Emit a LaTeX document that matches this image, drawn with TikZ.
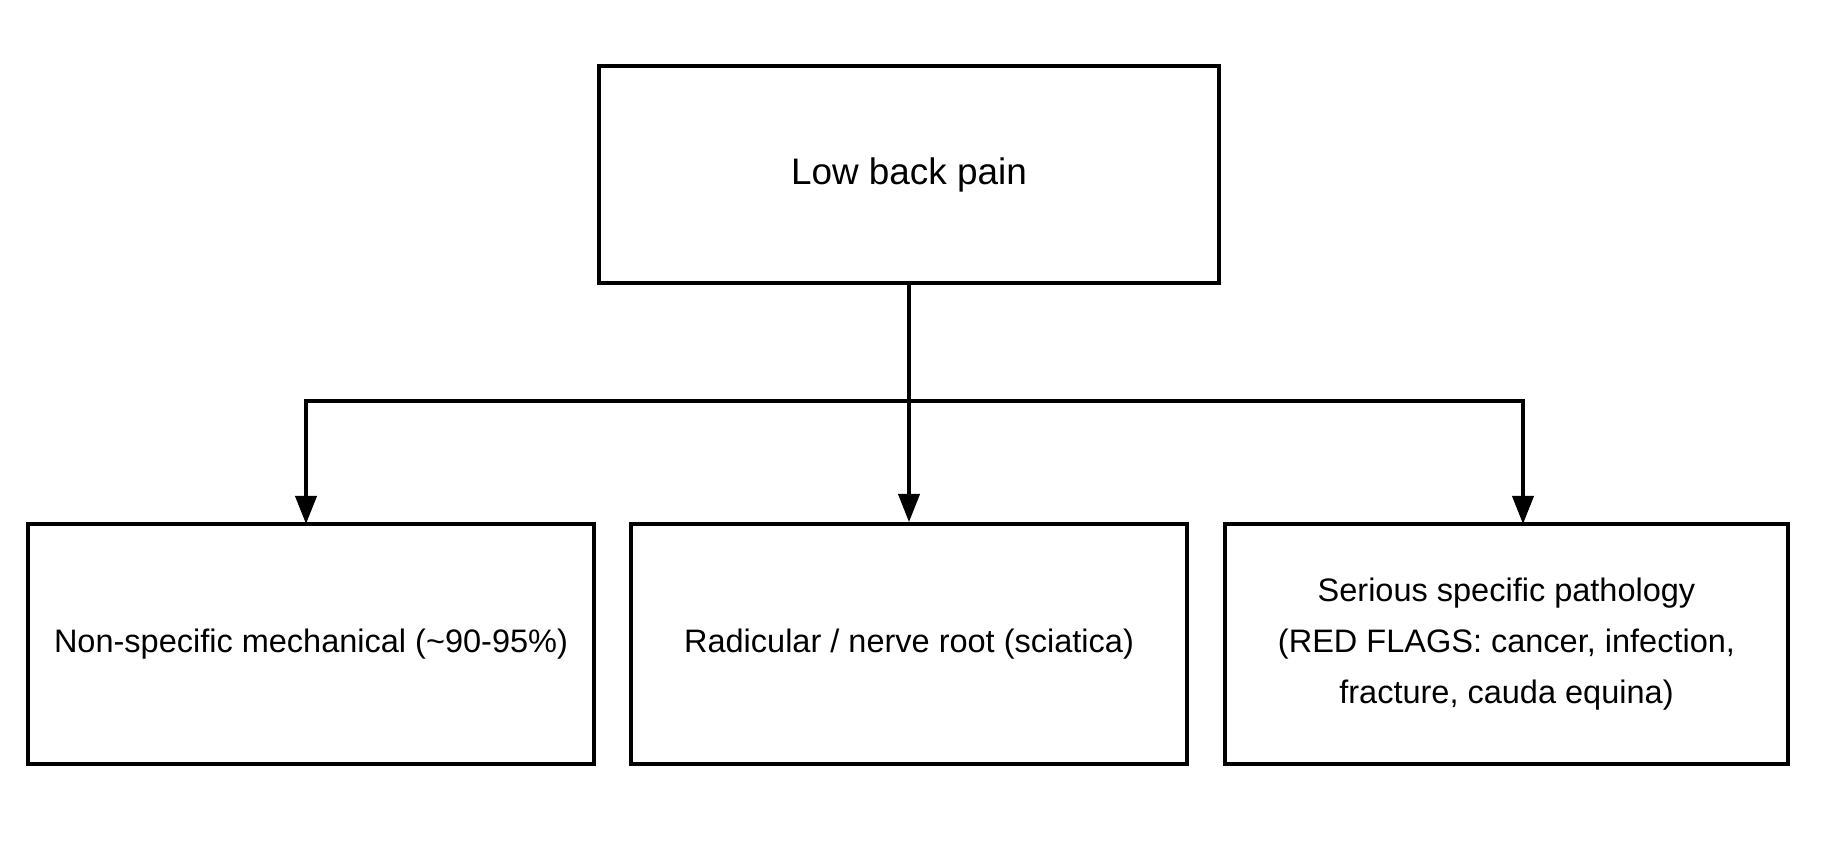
\documentclass[tikz,border=0pt]{standalone}
\usepackage{fontspec}
\setmainfont{Liberation Sans}
\usetikzlibrary{arrows.meta}
\begin{document}
\begin{tikzpicture}[x=0.02cm, y=-0.02cm,
		box/.style={
			draw=black,
			line width=2.2pt,
			rectangle,
			align=center,
			inner sep=0pt,
			font=\fontsize{18.5}{29}\selectfont},
		arrow/.style={line width=2.2pt, -{Triangle[length=16pt, width=12pt]}}]
		\useasboundingbox (0,0) rectangle (1823,863);
		\node (pain) [box, font=\fontsize{21}{29}\selectfont, minimum width=620*0.02cm, minimum height=217*0.02cm] at (909,174.5) {Low back pain};
		\node (mech) [box, minimum width=566*0.02cm, minimum height=240*0.02cm] at (311,644) {Non-specific mechanical (\textasciitilde90-95\%)};
		\node (radic) [box, minimum width=556*0.02cm, minimum height=240*0.02cm] at (909,644) {Radicular / nerve root (sciatica)};
		\node (serious) [box, minimum width=563*0.02cm, minimum height=240*0.02cm] at (1506.5,644) {Serious specific pathology\\(RED FLAGS: cancer, infection,\\fracture, cauda equina)};
		\coordinate (split) at (909,401);

		\draw [line width=2.2pt] (pain.south) -- (split);
		\draw [arrow] (split) -| (306,524);
		\draw [arrow] (split) -- (radic.north);
		\draw [arrow] (split) -| (1523,524);
	\end{tikzpicture}
\end{document}
